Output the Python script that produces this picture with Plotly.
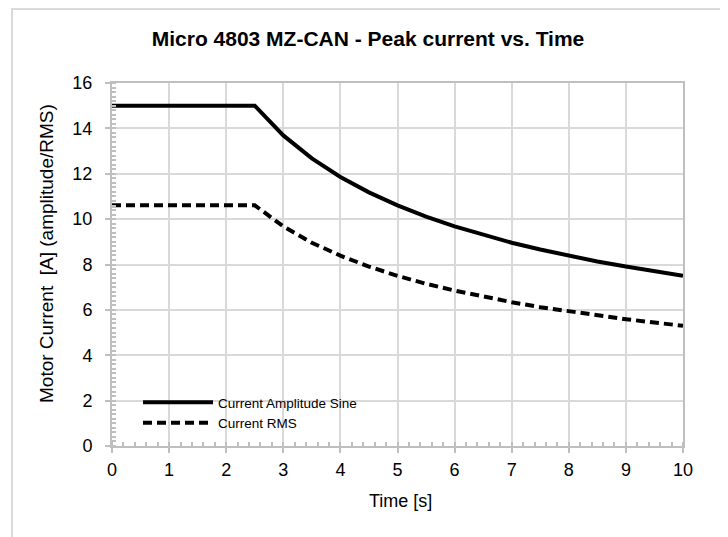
import plotly.graph_objects as go

time_s = [0, 0.5, 1, 1.5, 2, 2.5, 3, 3.5, 4, 4.5, 5, 5.5, 6, 6.5, 7, 7.5, 8, 8.5, 9, 9.5, 10]
amp_sine = [15, 15, 15, 15, 15, 15, 13.69, 12.68, 11.86, 11.18, 10.61, 10.11, 9.68, 9.30, 8.96,
            8.66, 8.39, 8.13, 7.91, 7.69, 7.50]
amp_rms = [10.61, 10.61, 10.61, 10.61, 10.61, 10.61, 9.68, 8.96, 8.39, 7.91, 7.50, 7.15, 6.85,
           6.58, 6.34, 6.12, 5.93, 5.75, 5.59, 5.44, 5.30]

FONT = "Liberation Sans, Arial"

fig = go.Figure()
fig.add_trace(go.Scatter(x=time_s, y=amp_sine, mode="lines", name="Current Amplitude Sine",
                         line=dict(color="black", width=4)))
fig.add_trace(go.Scatter(x=time_s, y=amp_rms, mode="lines", name="Current RMS",
                         line=dict(color="black", width=4, dash="9px,5px")))

axis_common = dict(showline=True, linecolor="#bfbfbf", linewidth=2, mirror=True,
                   showgrid=True, gridcolor="#d9d9d9", gridwidth=1.5, zeroline=False,
                   ticks="outside", ticklen=5, tickcolor="#bfbfbf", tickwidth=1.5,
                   tickfont=dict(family=FONT, size=18, color="black"))

W, H = 720, 529
L, R, T, B = 104, 45, 75, 91
pw, ph = W - L - R, H - T - B

fig.update_layout(
    width=W, height=H,
    paper_bgcolor="white", plot_bgcolor="white",
    margin=dict(l=L, r=R, t=T, b=B),
    title=dict(text="<b>Micro 4803 MZ-CAN - Peak current vs. Time</b>", x=0.5, xref="container",
               xanchor="center", y=1 - 31 / H, yref="container", yanchor="middle",
               font=dict(family=FONT, size=21, color="black")),
    xaxis=dict(range=[0, 10], dtick=1, tick0=0, ticklabelstandoff=1,
               minor=dict(dtick=0.2, ticks="inside", ticklen=4, tickcolor="#bfbfbf", showgrid=False),
               **axis_common),
    yaxis=dict(range=[0, 16], dtick=2, tick0=0, ticklabelstandoff=9,
               minor=dict(dtick=0.2, ticks="inside", ticklen=4, tickcolor="#bfbfbf", showgrid=False),
               **axis_common),
    legend=dict(x=(130 - L) / pw, y=(438 - 379) / ph, xanchor="left", yanchor="top",
                bgcolor="rgba(0,0,0,0)",
                font=dict(family=FONT, size=13.5, color="black"),
                itemwidth=70, tracegroupgap=0),
    showlegend=True,
)

fig.add_annotation(text="Time [s]", xref="paper", yref="paper",
                   x=(392 - L) / pw, y=(438 - 493) / ph, showarrow=False,
                   xanchor="center", yanchor="middle",
                   font=dict(family=FONT, size=18, color="black"))
fig.add_annotation(text="Motor Current \u00a0[A] (amplitude/RMS)", xref="paper", yref="paper",
                   x=(38 - L) / pw, y=(438 - 246) / ph, showarrow=False, textangle=-90,
                   xanchor="center", yanchor="middle",
                   font=dict(family=FONT, size=19, color="black"))

# outer chart-area border
fig.add_shape(type="rect", xref="paper", yref="paper",
              x0=(4 - L) / pw, x1=(715 - L) / pw, y0=-0.35, y1=(438 - 1) / ph,
              line=dict(color="#d9d9d9", width=2), fillcolor="rgba(0,0,0,0)", layer="below")

fig.write_html("out.html")
